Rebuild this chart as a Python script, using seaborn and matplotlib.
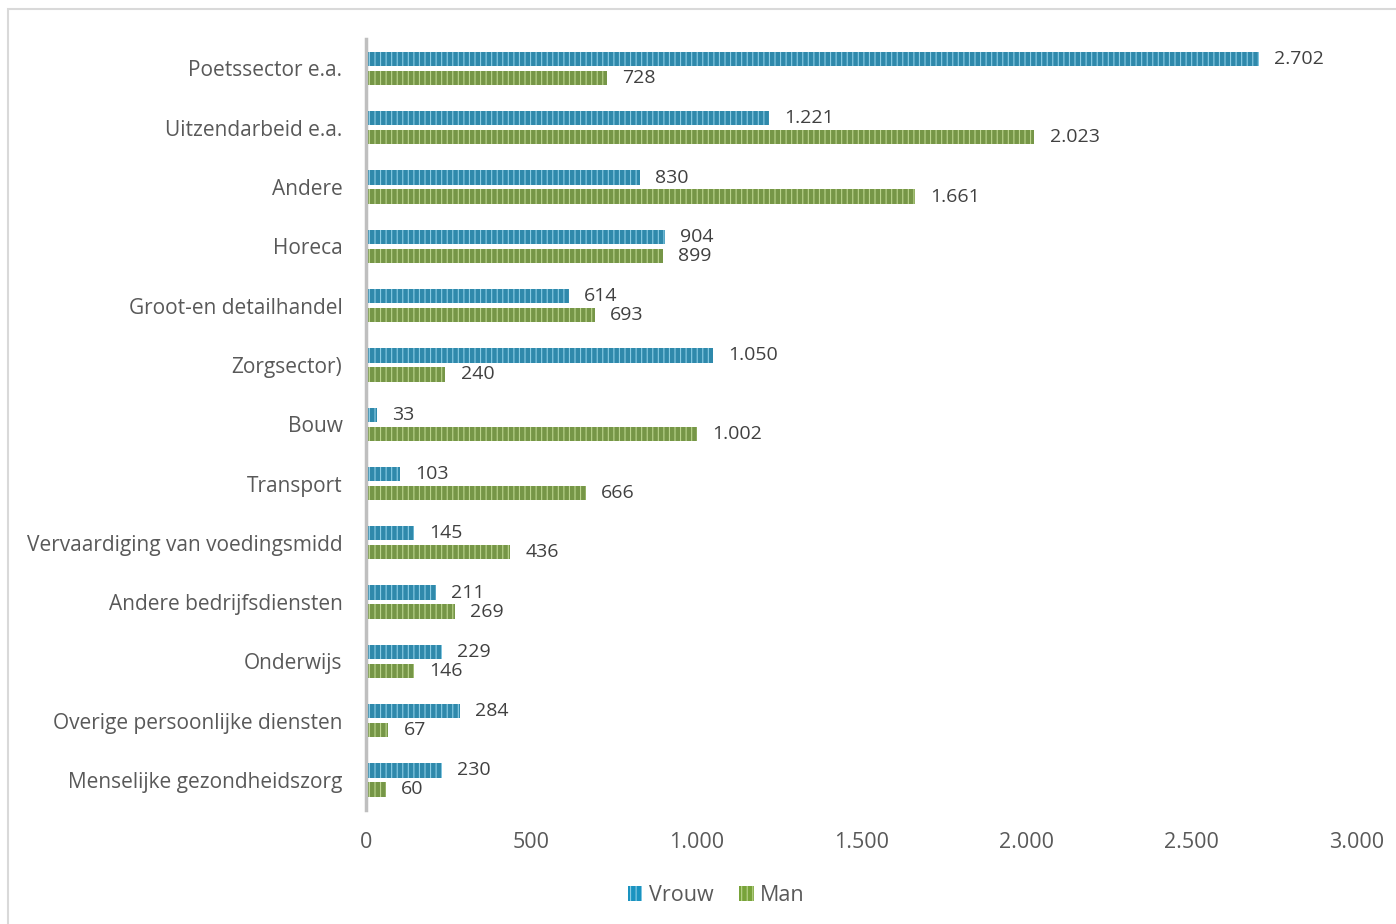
import matplotlib
matplotlib.use("Agg")
import matplotlib.pyplot as plt
import seaborn as sns
import pandas as pd
from matplotlib.patches import Rectangle


categories = [
    "Poetssector e.a.",
    "Uitzendarbeid e.a.",
    "Andere",
    "Horeca",
    "Groot-en detailhandel",
    "Zorgsector)",
    "Bouw",
    "Transport",
    "Vervaardiging van voedingsmidd",
    "Andere bedrijfsdiensten",
    "Onderwijs",
    "Overige persoonlijke diensten",
    "Menselijke gezondheidszorg",
]
vrouw = [2702, 1221, 830, 904, 614, 1050, 33, 103, 145, 211, 229, 284, 230]
man = [728, 2023, 1661, 899, 693, 240, 1002, 666, 436, 269, 146, 67, 60]
series = ["Vrouw", "Man"]
xticks = [0, 500, 1000, 1500, 2000, 2500, 3000]

df = pd.DataFrame({
    "sector": categories * 2,
    "geslacht": ["Vrouw"] * len(categories) + ["Man"] * len(categories),
    "aantal": vrouw + man,
})

BLUE = "#1A93C0"
GREEN = "#78A33A"
BLUE_H = "#8BCDE6"
GREEN_H = "#BCD58E"
TEXT = "#595959"

sns.set_theme(style="white")
plt.rcParams["font.family"] = ["Open Sans", "DejaVu Sans"]
plt.rcParams["hatch.linewidth"] = 0.8

fig = plt.figure(figsize=(13.96, 9.24), dpi=100)
ax = fig.add_axes([0.2622, 0.1238, 0.7099, 0.8342])

sns.barplot(data=df, y="sector", x="aantal", hue="geslacht",
            order=categories, hue_order=series,
            palette=[BLUE, GREEN], width=0.64, gap=0.25,
            orient="h", ax=ax, legend=False)

# striped look of the bars
for container, hcol in zip(ax.containers, [BLUE_H, GREEN_H]):
    for bar in container:
        bar.set_hatch("|||")
        bar.set_edgecolor(hcol)
        bar.set_linewidth(0)
    labels = [f"{int(v):,}".replace(",", ".") for v in container.datavalues]
    ax.bar_label(container, labels=labels, padding=11, fontsize=14,
                 color="#404040")

ax.set_xlim(0, 3000)
ax.set_ylim(len(categories) - 0.5, -0.5)
ax.set_xticks(xticks)
ax.set_xticklabels([f"{t:,}".replace(",", ".") for t in xticks])
ax.set_xlabel("")
ax.set_ylabel("")
ax.tick_params(axis="both", length=0, colors=TEXT)
ax.tick_params(axis="y", pad=17, labelsize=15)
ax.tick_params(axis="x", pad=16, labelsize=15.5)

for side in ["top", "right", "bottom"]:
    ax.spines[side].set_visible(False)
ax.spines["left"].set_color("#BFBFBF")
ax.spines["left"].set_linewidth(2.5)

# legend
handles = [Rectangle((0, 0), 1, 1, facecolor=BLUE, edgecolor=BLUE_H,
                     hatch="|||", linewidth=0),
           Rectangle((0, 0), 1, 1, facecolor=GREEN, edgecolor=GREEN_H,
                     hatch="|||", linewidth=0)]
fig.legend(handles, series, loc="center", bbox_to_anchor=(0.513, 0.031),
           ncol=2, frameon=False, fontsize=15.5, labelcolor=TEXT,
           handlelength=0.68, handleheight=0.68, handletextpad=0.3,
           columnspacing=1.2)

# chart border
fig.patches.append(Rectangle((8 / 1396, -0.1), 1.2, 1 - 9 / 924 + 0.1,
                             transform=fig.transFigure, fill=False,
                             edgecolor="#D9D9D9", linewidth=1.5))

fig.savefig("out.png", dpi=100, facecolor="white")
